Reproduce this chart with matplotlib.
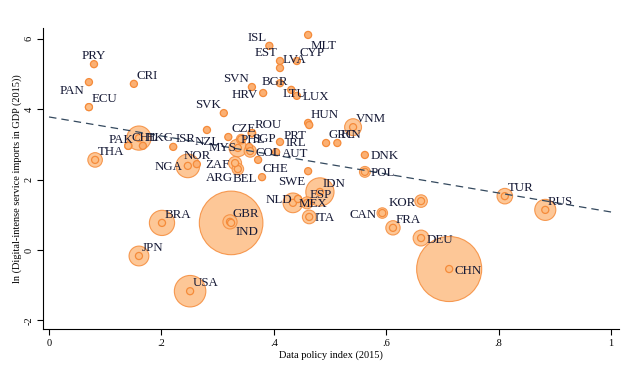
import matplotlib
matplotlib.use('Agg')
import matplotlib.pyplot as plt
import numpy as np

# ---- data ----
countries = ['PRY', 'PAN', 'ECU', 'CRI', 'SVK', 'SVN', 'HRV', 'ISL', 'EST', 'LVA',
             'CYP', 'MLT', 'BGR', 'LTU', 'LUX', 'HUN', 'PRT', 'VNM', 'GRC', 'FIN',
             'DNK', 'POL', 'ROU', 'CZE', 'PHL', 'SGP', 'COL', 'IRL', 'AUT', 'CHE',
             'BEL', 'ARG', 'ZAF', 'SWE', 'MYS', 'NZL', 'ISR', 'HKG', 'CHL', 'PAK',
             'THA', 'NOR', 'NGA', 'IDN', 'ESP', 'MEX', 'NLD', 'ITA', 'CAN', 'KOR',
             'FRA', 'DEU', 'CHN', 'TUR', 'RUS', 'GBR', 'IND', 'BRA', 'JPN', 'USA']

policy_index = [0.080, 0.071, 0.071, 0.151, 0.311, 0.361, 0.381, 0.392, 0.411, 0.411,
                0.441, 0.461, 0.431, 0.411, 0.441, 0.461, 0.463, 0.541, 0.493, 0.513,
                0.562, 0.562, 0.361, 0.319, 0.336, 0.356, 0.358, 0.411, 0.404, 0.372,
                0.379, 0.336, 0.331, 0.461, 0.342, 0.281, 0.221, 0.167, 0.141, 0.160,
                0.082, 0.263, 0.247, 0.482, 0.459, 0.434, 0.443, 0.463, 0.593, 0.662,
                0.612, 0.662, 0.712, 0.811, 0.883, 0.322, 0.324, 0.201, 0.160, 0.251]

ln_imports = [5.28, 4.77, 4.06, 4.72, 3.89, 4.63, 4.46, 5.80, 5.37, 5.17,
              5.37, 6.11, 4.55, 4.74, 4.38, 3.61, 3.55, 3.49, 3.04, 3.04,
              2.70, 2.22, 3.32, 3.21, 2.90, 2.93, 2.81, 3.07, 2.78, 2.56,
              2.07, 2.30, 2.47, 2.24, 3.15, 3.41, 2.93, 2.96, 2.96, 3.18,
              2.56, 2.44, 2.39, 1.65, 1.34, 1.34, 1.45, 0.94, 1.05, 1.39,
              0.63, 0.34, -0.54, 1.53, 1.14, 0.80, 0.77, 0.77, -0.17, -1.17]

# bubble weight: population 2015 (millions)
population = [6.6, 4.0, 16.1, 4.8, 5.4, 2.1, 4.2, 0.33, 1.3, 2.0,
              1.2, 0.45, 7.2, 2.9, 0.57, 9.8, 10.4, 92.7, 10.8, 5.5,
              5.7, 38.0, 19.8, 10.5, 101.7, 5.5, 48.2, 4.7, 8.6, 8.3,
              11.3, 43.1, 55.3, 9.8, 30.3, 4.6, 8.4, 7.3, 17.9, 189.4,
              68.7, 5.2, 181.1, 258.2, 46.4, 125.9, 16.9, 60.7, 35.8, 51.0,
              66.6, 81.7, 1371.0, 78.3, 144.1, 65.1, 1310.0, 205.9, 127.1, 321.4]

# fitted (weighted) linear trend
fit_intercept = 3.78
fit_slope = -2.70

x_ticks = [0, 0.2, 0.4, 0.6, 0.8, 1.0]
x_ticklabels = ['0', '.2', '.4', '.6', '.8', '1']
y_ticks = [-2, 0, 2, 4, 6]
y_ticklabels = ['-2', '0', '2', '4', '6']

x_title = 'Data policy index (2015)'
y_title = 'ln (Digital-intense service imports in GDP (2015))'

# label clock positions (Stata style)
label_clock = {
    'PRY': 12, 'PAN': 8, 'ECU': 1, 'CRI': 1, 'SVK': 11, 'SVN': 11, 'HRV': 9,
    'ISL': 11, 'EST': 11, 'LVA': 1, 'CYP': 1, 'MLT': 5, 'BGR': 11, 'LTU': 5,
    'LUX': 3, 'HUN': 1, 'PRT': 7, 'VNM': 1, 'GRC': 1, 'FIN': 1, 'DNK': 3,
    'POL': 3, 'ROU': 1, 'CZE': 1, 'PHL': 1, 'SGP': 1, 'COL': 3, 'IRL': 3,
    'AUT': 3, 'CHE': 4, 'BEL': 9, 'ARG': 8, 'ZAF': 9, 'SWE': 7, 'MYS': 8,
    'NZL': 6, 'ISR': 1, 'HKG': 1, 'CHL': 1, 'PAK': 9, 'THA': 1, 'NOR': 12,
    'NGA': 9, 'IDN': 1, 'ESP': 1, 'MEX': 3, 'NLD': 9, 'ITA': 3, 'CAN': 9,
    'KOR': 9, 'FRA': 1, 'DEU': 3, 'CHN': 3, 'TUR': 1, 'RUS': 1, 'GBR': 1,
    'IND': 4, 'BRA': 1, 'JPN': 1, 'USA': 1,
}

# ---- style ----
serif = ['Liberation Serif', 'DejaVu Serif']
plt.rcParams['font.family'] = serif
fill_col = '#FDBE85'
dot_col = '#FBB073'
edge_col = '#F58B3A'
text_col = '#161a36'

fig = plt.figure(figsize=(6.41, 3.72), dpi=100)
ax = fig.add_axes([0.0671, 0.1156, 0.8986, 0.8091])

x = np.array(policy_index)
y = np.array(ln_imports)
w = np.array(population)

order = np.argsort(-w)
ax.scatter(x[order], y[order], s=w[order] * 1.6, facecolor=fill_col, edgecolor=edge_col,
           linewidth=0.8, alpha=0.85, zorder=2)
ax.scatter(x, y, s=26, facecolor=np.where(w < 15, dot_col, fill_col), edgecolor=edge_col,
           linewidth=0.9, zorder=3)

xl = np.array([0.0, 1.0])
ax.plot(xl, fit_intercept + fit_slope * xl, color='#34495e', lw=0.9,
        dashes=(6, 4), zorder=4)

gap = 4.0
for c, xi, yi in zip(countries, policy_index, ln_imports):
    pos = label_clock[c]
    ang = np.deg2rad(pos * 30)
    dx, dy = gap * np.sin(ang), gap * np.cos(ang)
    ha = 'left' if dx > 0.5 else ('right' if dx < -0.5 else 'center')
    va = 'baseline' if dy > 0.5 else ('top' if dy < -0.5 else 'center_baseline')
    ax.annotate(c, (xi, yi), xytext=(dx, dy), textcoords='offset points',
                ha=ha, va=va, fontsize=9.3, color=text_col, zorder=5)

ax.set_xlim(-0.0107, 1.0142)
ax.set_ylim(-2.244, 6.307)
ax.set_xticks(x_ticks)
ax.set_xticklabels(x_ticklabels)
ax.set_yticks(y_ticks)
ax.set_yticklabels(y_ticklabels, rotation=90, va='center')
ax.tick_params(direction='out', length=4, width=0.8, labelsize=7.5, pad=3, colors='black')
for s in ['top', 'right']:
    ax.spines[s].set_visible(False)
for s in ['left', 'bottom']:
    ax.spines[s].set_linewidth(0.8)
ax.set_xlabel(x_title, fontsize=7.5, labelpad=2)
ax.set_ylabel(y_title, fontsize=7.5, labelpad=2)

fig.savefig('out.png', dpi=100)
